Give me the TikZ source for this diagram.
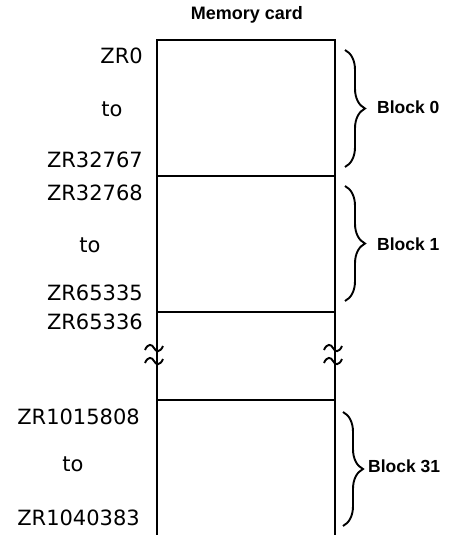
\documentclass[tikz,border=0pt]{standalone}
\usepackage{fontspec}
\setmainfont{Liberation Sans}
\newfontfamily\labfont{DejaVu Sans}
\usetikzlibrary{decorations.pathreplacing}
\tikzset{
  addr/.style={inner sep=0pt, font=\labfont\fontsize{21}{24}\selectfont},
  blk/.style={inner sep=0pt, anchor=west, font=\bfseries\fontsize{17.5}{20}\selectfont},
  edge/.style={line width=2pt},
  brc/.style={line width=1.9pt, decorate, decoration={brace, amplitude=20pt, aspect=0.5}},
  squig/.style={line width=1.9pt},
}
\begin{document}
\begin{tikzpicture}[x=1pt,y=-1pt]
\useasboundingbox (0,0) rectangle (453,535);
% card outline
\coordinate (tl) at (157,40);
\coordinate (tr) at (335,40);
\coordinate (bl) at (157,536);
\coordinate (br) at (335,536);
\draw[edge] (bl) -- (tl) -- (tr) -- (br);
\coordinate (a1) at (157,176); \coordinate (b1) at (335,176);
\coordinate (a2) at (157,312); \coordinate (b2) at (335,312);
\coordinate (a3) at (157,400); \coordinate (b3) at (335,400);
\draw[edge] (a1) -- (b1);
\draw[edge] (a2) -- (b2);
\draw[edge] (a3) -- (b3);
% break marks
\foreach \xx in {154,333}{
  \foreach \yy in {348,361}{
    \draw[squig] (\xx-9,\yy+2) .. controls (\xx-6,\yy-5) and (\xx-2,\yy-4) .. (\xx,\yy)
      .. controls (\xx+2,\yy+4) and (\xx+6,\yy+5) .. (\xx+9,\yy-2);
  }
}
% title
\node[inner sep=0pt, font=\bfseries\fontsize{18}{20}\selectfont] (title) at (247,15) {Memory card};
% braces
\coordinate (c0t) at (345,50); \coordinate (c0b) at (345,167);
\coordinate (c1t) at (345,186); \coordinate (c1b) at (345,301);
\coordinate (c2t) at (343,412); \coordinate (c2b) at (343,526);
\draw[brc] (c0t) -- (c0b);
\draw[brc] (c1t) -- (c1b);
\draw[brc] (c2t) -- (c2b);
\node[blk] (b0) at (377,107) {Block 0};
\node[blk] (bk1) at (377,244) {Block 1};
\node[blk] (bk31) at (368,466) {Block 31};
% address labels
\node[addr, anchor=east] (z0) at (143,56) {ZR0};
\node[addr] (t0) at (112,109) {to};
\node[addr, anchor=east] (z1) at (143,160) {ZR32767};
\node[addr, anchor=east] (z2) at (143,193) {ZR32768};
\node[addr] (t1) at (90,245) {to};
\node[addr, anchor=east] (z3) at (143,293) {ZR65335};
\node[addr, anchor=east] (z4) at (143,322) {ZR65336};
\node[addr, anchor=east] (z5) at (140,417) {ZR1015808};
\node[addr] (t2) at (73,464) {to};
\node[addr, anchor=east] (z6) at (140,518) {ZR1040383};
\end{tikzpicture}
\end{document}
